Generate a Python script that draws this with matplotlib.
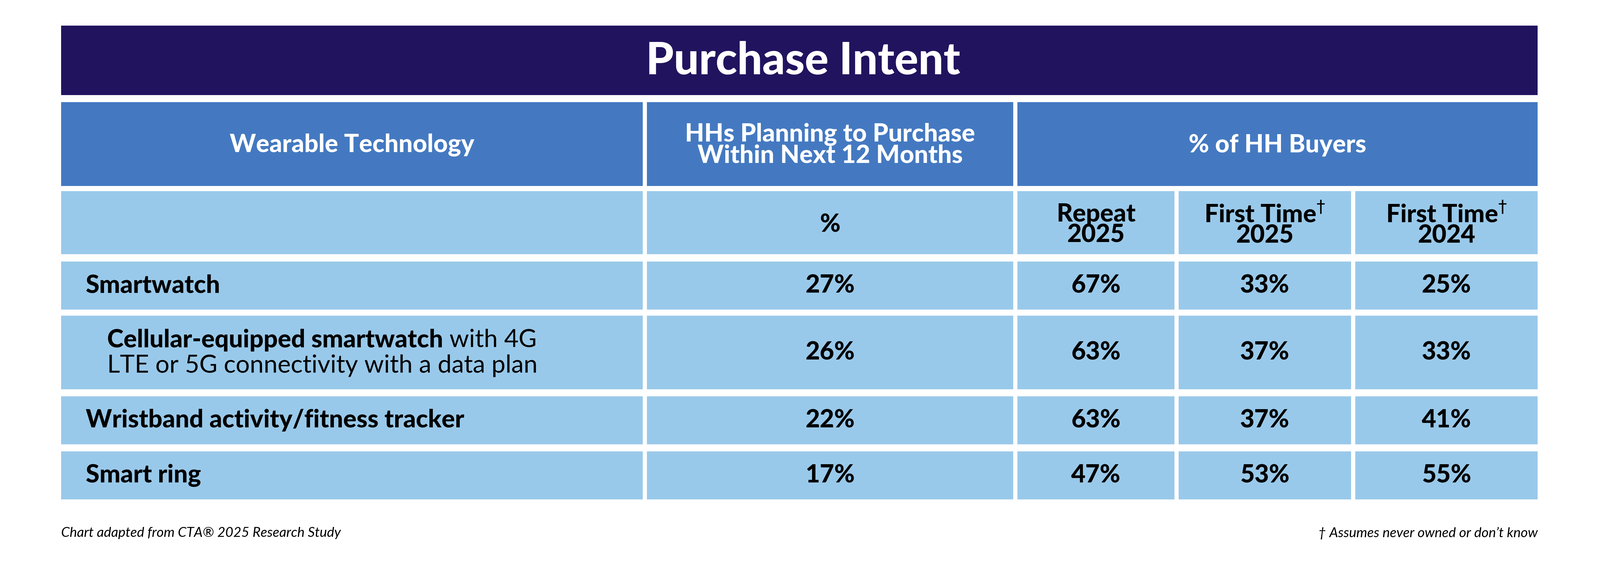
import matplotlib
matplotlib.use("Agg")
import matplotlib.pyplot as plt
from matplotlib.patches import Rectangle

title = "Purchase Intent"
col_headers = ["Wearable Technology", "HHs Planning to Purchase\nWithin Next 12 Months", "% of HH Buyers"]
sub_headers = ["", "%", "Repeat\n2025", "First Time$^{\\dagger}$\n2025", "First Time$^{\\dagger}$\n2024"]
techs = ["Smartwatch", "Cellular-equipped smartwatch", "Wristband activity/fitness tracker", "Smart ring"]
planning = [27, 26, 22, 17]
repeat_2025 = [67, 63, 63, 47]
first_2025 = [33, 37, 37, 53]
first_2024 = [25, 33, 41, 55]
footnote_left = "Chart adapted from CTA\u00ae 2025 Research Study"
footnote_right = "\u2020 Assumes never owned or don\u2019t know"

DARK = "#22135F"; MID = "#4479C1"; LIGHT = "#99C9EA"
FONT = "Lato"
FS = 56
W = "heavy"

fig = plt.figure(figsize=(50.01, 17.93), dpi=100)
ax = fig.add_axes([0, 0, 1, 1])
ax.set_xlim(0, 1568); ax.set_ylim(562, 0); ax.axis("off")

cols = [(60, 630), (634, 993), (997, 1151), (1155, 1324), (1328, 1507)]
def rect(x0, x1, y0, y1, c):
    ax.add_patch(Rectangle((x0, y0), x1 - x0, y1 - y0, color=c, lw=0))

rect(60, 1507, 25, 93, DARK)
ax.text(787, 60, title, color="white", fontsize=100, fontweight=W, family=FONT, ha="center", va="center")

hdr_spans = [cols[0], cols[1], (cols[2][0], cols[4][1])]
for (x0, x1), t in zip(hdr_spans, col_headers):
    rect(x0, x1, 100, 182, MID)
    ax.text((x0 + x1) / 2, 142, t, color="white", fontsize=FS, fontweight=W, family=FONT,
            ha="center", va="center", linespacing=0.9)

for (x0, x1), t in zip(cols, sub_headers):
    rect(x0, x1, 187, 249, LIGHT)
    if t:
        ax.text((x0 + x1) / 2, 220, t, color="black", fontsize=FS, fontweight=W, family=FONT,
                ha="center", va="center", linespacing=0.9)

rows = [(256, 303), (309, 381), (388, 435), (442, 489)]
fig.canvas.draw()
r = fig.canvas.get_renderer()
for i, (y0, y1) in enumerate(rows):
    for x0, x1 in cols:
        rect(x0, x1, y0, y1, LIGHT)
    ym = (y0 + y1) / 2
    if i == 1:
        t1 = ax.text(105, ym - 12, techs[i], fontsize=FS, fontweight=W, family=FONT, va="center")
        bb = t1.get_window_extent(renderer=r)
        xe = ax.transData.inverted().transform((bb.x1, 0))[0]
        ax.text(xe, ym - 12, " with 4G", fontsize=FS, family=FONT, va="center")
        ax.text(105, ym + 13, "LTE or 5G connectivity with a data plan", fontsize=FS, family=FONT, va="center")
    else:
        ax.text(84, ym, techs[i], fontsize=FS, fontweight=W, family=FONT, va="center")
    for (x0, x1), v in zip(cols[1:], [planning[i], repeat_2025[i], first_2025[i], first_2024[i]]):
        ax.text((x0 + x1) / 2, ym, f"{v}%", fontsize=FS, fontweight=W, family=FONT, ha="center", va="center")

ax.text(60, 522, footnote_left, fontsize=31, style="italic", family=FONT, va="center")
ax.text(1507, 522, footnote_right, fontsize=31, style="italic", family=FONT, va="center", ha="right")

fig.savefig("out.png", dpi=100, facecolor="white")
